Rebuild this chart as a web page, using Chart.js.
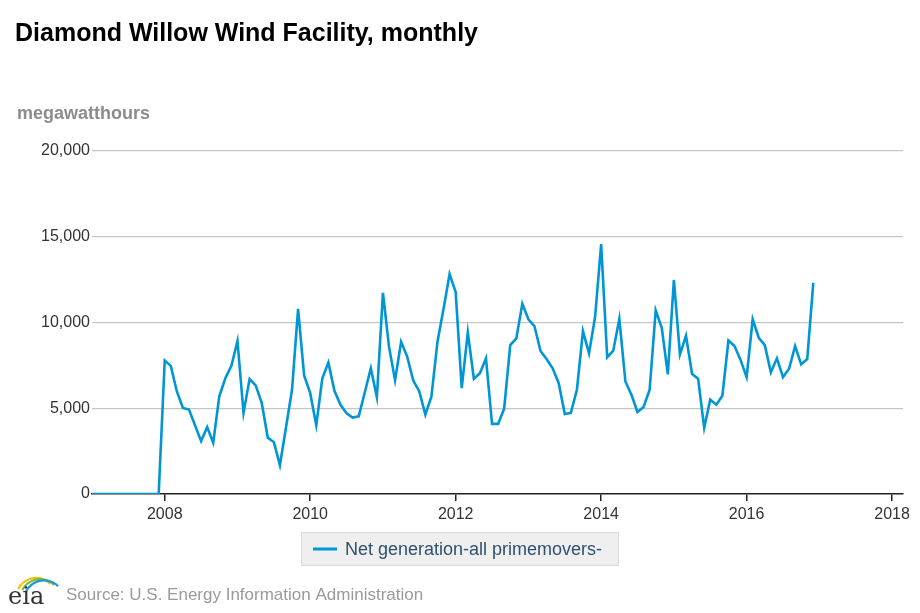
<!DOCTYPE html>
<html>
<head>
<meta charset="utf-8">
<script src="https://cdn.jsdelivr.net/npm/chart.js@4/dist/chart.umd.min.js"></script>
<style>
  html, body { margin: 0; padding: 0; background: #fff; }
  #wrap { position: relative; width: 920px; height: 613px; }
</style>
</head>
<body>
<div id="wrap"><canvas id="chart" width="920" height="613"></canvas></div>
<script>
// Monthly net generation, Jan 2007 .. Dec 2016 (megawatthours)
const startYear = 2007;
const seriesName = 'Net generation-all primemovers-';
const gen2007 = [0, 0, 0, 0, 0, 0, 0, 0, 0, 0, 0, 0];
const gen2008 = [7780, 7470, 5980, 5020, 4920, 4000, 3090, 3900, 2990, 5690, 6750, 7470];
const gen2009 = [8920, 4730, 6700, 6330, 5310, 3280, 3030, 1680, 3860, 6080, 10800, 6910];
const gen2010 = [5880, 4010, 6750, 7660, 6020, 5200, 4700, 4460, 4530, 5920, 7330, 5650];
const gen2011 = [11730, 8590, 6640, 8880, 8010, 6620, 5980, 4630, 5690, 8880, 10800, 12830];
const gen2012 = [11770, 6170, 9420, 6720, 7040, 7910, 4090, 4090, 4980, 8680, 9070, 11090];
const gen2013 = [10190, 9780, 8340, 7870, 7330, 6460, 4670, 4730, 6080, 9500, 8200, 10320];
const gen2014 = [14570, 7970, 8360, 10210, 6560, 5790, 4780, 5070, 6080, 10710, 9690, 6980];
const gen2015 = [12480, 8140, 9220, 7000, 6720, 3860, 5500, 5210, 5730, 8950, 8630, 7820];
const gen2016 = [6810, 10190, 9110, 8680, 7100, 7910, 6810, 7300, 8630, 7560, 7870, 12310];
const xTicks = [2008, 2010, 2012, 2014, 2016, 2018];
const yTicks = [0, 5000, 10000, 15000, 20000];

const generation = [].concat(gen2007, gen2008, gen2009, gen2010, gen2011,
                             gen2012, gen2013, gen2014, gen2015, gen2016);
const points = generation.map((v, i) => ({ x: startYear + i / 12, y: v }));

const FONT = '"Liberation Sans", Arial, sans-serif';

// titles, legend box, source line and logo
const decorations = {
    id: 'decorations',
    afterDraw(chart) {
        const c = chart.ctx;
        c.save();
        c.textBaseline = 'alphabetic';
        c.textAlign = 'left';

        c.fillStyle = '#000';
        c.font = 'bold 25px ' + FONT;
        c.fillText('Diamond Willow Wind Facility, monthly', 15, 41);

        c.fillStyle = '#8c8c8c';
        c.font = 'bold 18px ' + FONT;
        c.fillText('megawatthours', 17, 119);

        // legend
        c.fillStyle = '#efefef';
        c.fillRect(301, 532, 318, 34);
        c.strokeStyle = '#dcdcdc';
        c.lineWidth = 1;
        c.strokeRect(301.5, 532.5, 317, 33);
        c.strokeStyle = '#0096d6';
        c.lineWidth = 3;
        c.beginPath();
        c.moveTo(313, 549);
        c.lineTo(337, 549);
        c.stroke();
        c.fillStyle = '#2e5071';
        c.font = '18px ' + FONT;
        c.fillText(chart.data.datasets[0].label, 345, 555);

        // source
        c.fillStyle = '#9a9a9a';
        c.font = '17px ' + FONT;
        c.fillText('Source: U.S. Energy Information Administration', 66, 600);

        // eia logo
        c.lineWidth = 2.2;
        [['#f4c20d', 0], ['#7cb93f', 4], ['#1c9ad6', 8]].forEach(([col, dx]) => {
            c.strokeStyle = col;
            c.beginPath();
            c.arc(36 + dx, 598 + dx * 0.3, 20, Math.PI * 1.15, Math.PI * 1.75);
            c.stroke();
        });
        c.fillStyle = '#333';
        c.font = '24px "DejaVu Serif", serif';
        c.fillText('eia', 8, 604);
        c.restore();
    }
};

new Chart(document.getElementById('chart'), {
    type: 'line',
    data: {
        datasets: [{
            label: seriesName,
            data: points,
            borderColor: '#0096d6',
            borderWidth: 2.6,
            pointRadius: 0,
            tension: 0,
            fill: false
        }]
    },
    options: {
        responsive: false,
        animation: false,
        layout: { padding: { top: 151, right: 17, bottom: 85, left: 0 } },
        plugins: {
            legend: { display: false },
            tooltip: { enabled: false }
        },
        scales: {
            x: {
                type: 'linear',
                min: 2007,
                max: 2018.15,
                afterBuildTicks: (scale) => { scale.ticks = xTicks.map(v => ({ value: v })); },
                afterFit: (scale) => { scale.height = 34; },
                ticks: {
                    color: '#333',
                    font: { family: FONT, size: 16 },
                    padding: 4,
                    maxRotation: 0,
                    callback: (v) => String(v)
                },
                grid: {
                    drawOnChartArea: false,
                    drawTicks: true,
                    tickLength: 7,
                    color: '#222',
                    lineWidth: 1.5
                },
                border: { display: true, color: '#222', width: 1.5 }
            },
            y: {
                min: 0,
                max: 20000,
                afterBuildTicks: (scale) => { scale.ticks = yTicks.map(v => ({ value: v })); },
                afterFit: (scale) => { scale.width = 92; },
                ticks: {
                    color: '#333',
                    font: { family: FONT, size: 16 },
                    padding: 2,
                    callback: (v) => v.toLocaleString('en-US')
                },
                grid: {
                    drawTicks: false,
                    color: (ctx) => ctx.tick && ctx.tick.value === 0 ? 'rgba(0,0,0,0)' : '#c6c6c6',
                    lineWidth: 1.2
                },
                border: { display: false }
            }
        }
    },
    plugins: [decorations]
});
</script>
</body>
</html>
